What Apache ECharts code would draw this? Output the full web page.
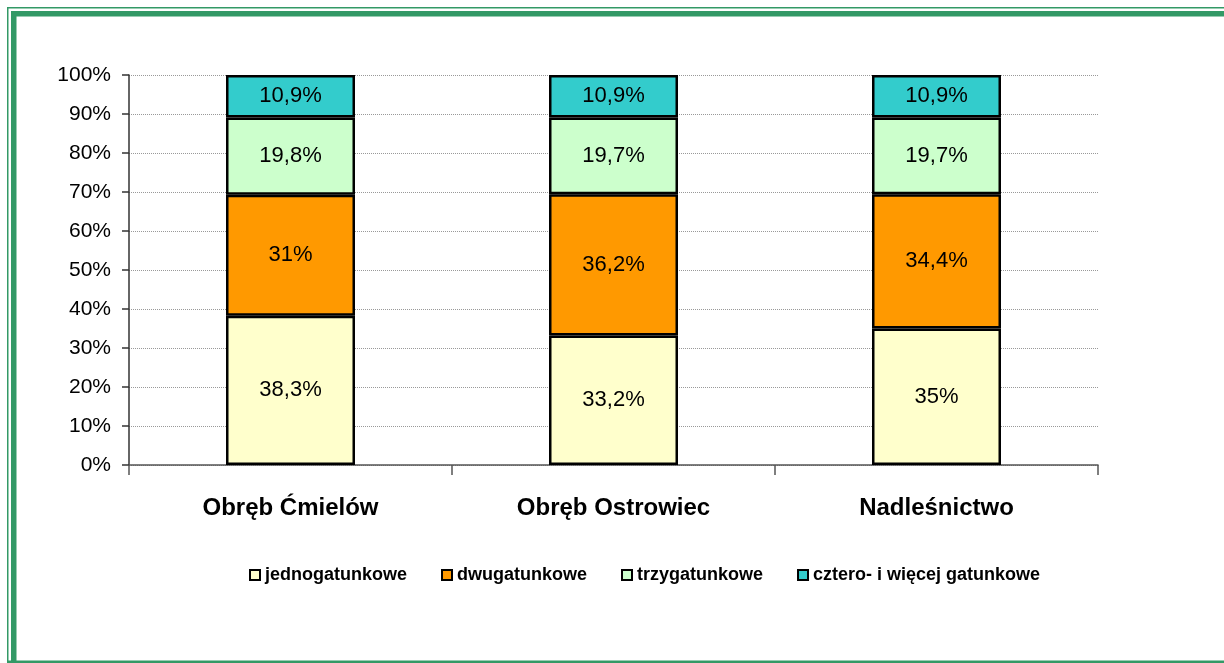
<!DOCTYPE html>
<html>
<head>
<meta charset="utf-8">
<script src="https://cdn.jsdelivr.net/npm/echarts@6/dist/echarts.min.js"></script>
<style>
  html, body { margin: 0; padding: 0; background: #fff; }
  #chart { width: 1224px; height: 663px; }
</style>
</head>
<body>
<div id="chart"></div>
<script>
const categories = ['Obręb Ćmielów', 'Obręb Ostrowiec', 'Nadleśnictwo']
const seriesNames = ['jednogatunkowe', 'dwugatunkowe', 'trzygatunkowe', 'cztero- i więcej gatunkowe']
const jedno = [38.3, 33.2, 35]
const dwu = [31, 36.2, 34.4]
const trzy = [19.8, 19.7, 19.7]
const cztero = [10.9, 10.9, 10.9]
const colors = ['#FFFFCC', '#FF9900', '#CCFFCC', '#33CCCC']

const green = '#339966'
const chart = echarts.init(document.getElementById('chart'))

function makeSeries(name, data, color) {
  return {
    name: name,
    type: 'bar',
    stack: 'total',
    barWidth: 129,
    data: data,
    itemStyle: { color: color, borderColor: '#000', borderWidth: 2.5 },
    label: {
      show: true,
      position: 'inside',
      color: '#000',
      fontSize: 22,
      fontFamily: 'Liberation Sans, Arial, sans-serif',
      formatter: p => String(p.value).replace('.', ',') + '%'
    }
  }
}

const option = {
  animation: false,
  backgroundColor: '#fff',
  graphic: [
    { type: 'rect', shape: { x: 7, y: 7, width: 1230, height: 1.5 }, style: { fill: green } },
    { type: 'rect', shape: { x: 7, y: 7, width: 1.5, height: 660 }, style: { fill: green } },
    { type: 'rect', shape: { x: 11, y: 11, width: 1230, height: 5.5 }, style: { fill: green } },
    { type: 'rect', shape: { x: 11, y: 11, width: 5.5, height: 660 }, style: { fill: green } },
    { type: 'rect', shape: { x: 7, y: 660.5, width: 1230, height: 3 }, style: { fill: green } }
  ],
  legend: {
    data: seriesNames,
    left: 244,
    top: 561,
    icon: 'rect',
    itemWidth: 10,
    itemHeight: 10,
    itemGap: 34,
    textStyle: {
      fontSize: 18,
      fontWeight: 'bold',
      color: '#000',
      fontFamily: 'Liberation Sans Narrow, Arial Narrow, Liberation Sans, sans-serif'
    }
  },
  grid: { left: 129, right: 126, top: 75, bottom: 198, containLabel: false },
  xAxis: {
    type: 'category',
    data: categories,
    axisLine: { lineStyle: { color: '#555', width: 1.5 } },
    axisTick: { show: true, length: 10, lineStyle: { color: '#555', width: 1.5 } },
    axisLabel: {
      margin: 31,
      fontSize: 24,
      fontWeight: 'bold',
      color: '#000',
      fontFamily: 'Liberation Sans Narrow, Arial Narrow, Liberation Sans, sans-serif'
    }
  },
  yAxis: {
    type: 'value',
    min: 0,
    max: 100,
    interval: 10,
    axisLine: { show: true, lineStyle: { color: '#333', width: 1.5 } },
    axisTick: { show: true, length: 7, lineStyle: { color: '#333', width: 1.5 } },
    axisLabel: {
      margin: 18,
      fontSize: 21,
      color: '#000',
      fontFamily: 'Liberation Sans, Arial, sans-serif',
      formatter: '{value}%'
    },
    splitLine: { show: true, lineStyle: { color: '#999', type: 'dotted', width: 1 } }
  },
  series: [
    makeSeries(seriesNames[0], jedno, colors[0]),
    makeSeries(seriesNames[1], dwu, colors[1]),
    makeSeries(seriesNames[2], trzy, colors[2]),
    makeSeries(seriesNames[3], cztero, colors[3])
  ]
}
chart.setOption(option)
</script>
</body>
</html>
